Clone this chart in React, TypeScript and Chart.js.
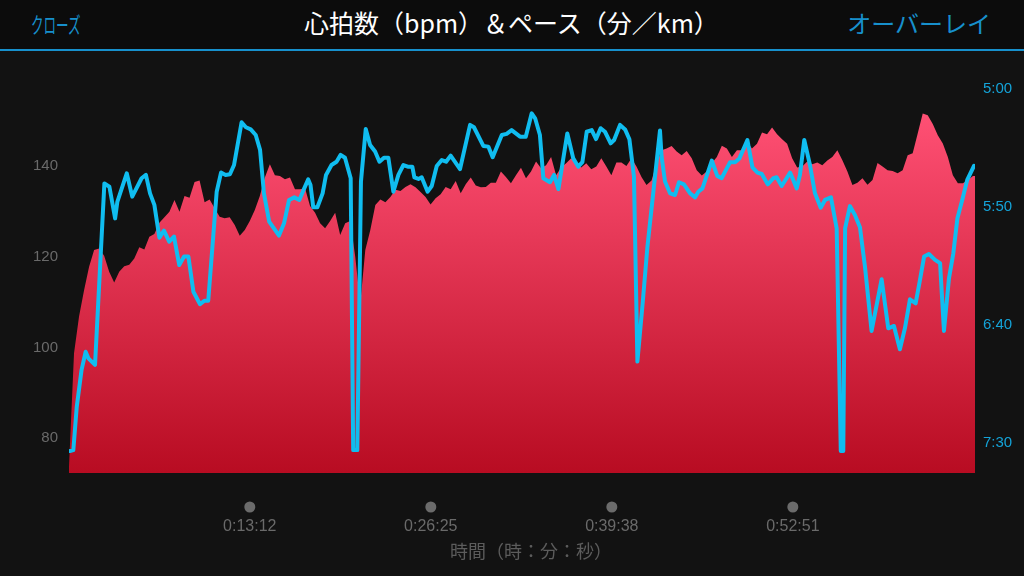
import { useEffect, useRef } from 'react'
import { Chart, registerables } from 'chart.js'

Chart.register(...registerables)

const sampleStep = 22
const heartRate = [
  73.7, 98.7, 106.8, 112.6, 117.8, 121.5, 121.8, 120.2, 116.7, 114.3,
  116.7, 117.9, 118.2, 119.6, 122.1, 121.6, 124.4, 125, 127.5, 128.7,
  129.9, 132.5, 129.9, 133.4, 133, 136.5, 136.8, 132, 132.6, 130.7,
  128.8, 128.5, 128.7, 127, 124.6, 125.9, 127.9, 130.3, 133.4, 137.5,
  140.4, 138, 137.8, 137.1, 137.5, 134.9, 134.9, 135.1, 131.2, 129.7,
  127.4, 126.3, 127.9, 129.7, 124.8, 127.4, 127.9, 120, 109.7, 121.5,
  125.9, 131.4, 132.6, 132, 133.2, 134.8, 134.5, 135.4, 136, 135.3,
  134.3, 133.2, 131.5, 132.9, 133.8, 135.4, 134.9, 136.7, 134, 136,
  137.5, 135.7, 135.3, 135.4, 136.3, 136.3, 138.8, 137.6, 136.2, 138,
  139.6, 137.3, 138.8, 141, 139.5, 140.2, 142, 138, 139.7, 140.6,
  141.7, 140.7, 139.7, 140.6, 139.3, 139.9, 141.7, 139.9, 138, 140.8,
  140.8, 140, 141.7, 139.9, 137.6, 135.8, 136.8, 140.6, 143.5, 143.9,
  144.4, 143.2, 142.4, 143.3, 141.7, 139.1, 137.9, 138.8, 140.6, 142,
  144.5, 143.9, 142, 143.5, 143.5, 145.4, 143.9, 144.9, 147.4, 147,
  148.5, 147, 145.9, 144.9, 141.7, 139.7, 139.9, 141, 140.4, 140.8,
  140.2, 141.2, 142, 143.5, 141.3, 138.8, 135.8, 136.3, 137.3, 135.9,
  136.9, 140.7, 139.9, 139.1, 138.9, 138.4, 139.1, 142.4, 142.8, 147.2,
  151.6, 151.2, 149.3, 146.8, 145, 142, 138, 136.2, 136.2, 136.9,
  137.8, 137.8,
]

const paceTimes = [
  4, 19, 34, 55, 73, 85, 114, 155, 177, 202, 212, 253, 277, 318, 337, 355, 374, 396, 416, 439,
  460, 483, 504, 523, 545, 574, 593, 610, 647, 666, 686, 705, 723, 756, 775, 796, 818, 837, 854, 877,
  920, 942, 964, 987, 1009, 1031, 1048, 1058, 1070, 1088, 1111, 1126, 1150, 1172, 1190, 1209, 1234, 1245, 1263, 1279,
  1300, 1319, 1341, 1360, 1380, 1399, 1421, 1443, 1465, 1484, 1504, 1513, 1531, 1545, 1571, 1589, 1611, 1633, 1652, 1672,
  1713, 1757, 1774, 1815, 1837, 1856, 1896, 1917, 1939, 1976, 2001, 2027, 2042, 2063, 2078, 2107, 2125, 2144, 2183, 2209,
  2231, 2249, 2268, 2290, 2309, 2329, 2348, 2373, 2388, 2414, 2436, 2455, 2475, 2490, 2513, 2534, 2553, 2589, 2596, 2611,
  2633, 2655, 2672, 2694, 2721, 2743, 2757, 2775, 2816, 2840, 2859, 2896, 2918, 2937, 2972, 2994, 3016, 3035, 3061, 3086,
  3100, 3122, 3159, 3188, 3202, 3221, 3246, 3268, 3293, 3312, 3338, 3363, 3381, 3392, 3400, 3421, 3443, 3465, 3487, 3516,
  3560, 3589, 3614, 3640, 3662, 3684, 3709, 3728, 3746, 3767, 3794, 3816, 3833, 3855, 3874, 3892, 3915, 3935, 3965,
]
// pace in seconds per km
const paceValues = [
  453.4, 453, 434.6, 419, 411.3, 414.1, 416.9, 340, 341.4, 354.8, 347.7, 335.7, 345.6, 337.8, 336.4, 344.2, 349.1, 363, 360, 364.7,
  362.5, 374.6, 371, 371, 385.9, 391.2, 389.7, 389.7, 343.5, 335.4, 336.4, 336.1, 332.2, 314.1, 316.2, 317.1, 319.5, 325.8, 344.2, 356.2,
  362.1, 356.9, 347, 345.9, 347, 342, 338.3, 340.7, 350.1, 350.1, 344.2, 336.4, 332.2, 330.8, 327.9, 329.1, 337.8, 453, 453, 339.2,
  316.9, 323.7, 326.5, 330.8, 329.1, 329.1, 343.5, 336.4, 332.2, 332.9, 332.9, 337.4, 338.1, 337.4, 343.5, 341.1, 332.6, 330.1, 330.8, 328.2,
  333.9, 315.2, 316.2, 324.1, 324.4, 328.9, 319.5, 319, 317.4, 320.2, 320.2, 310.3, 312.4, 319.5, 337.8, 339.5, 336.4, 342.4, 318.8, 329.4,
  332.9, 331, 318.1, 317.4, 321.2, 316.6, 318.1, 323, 321.6, 315.2, 317.1, 321.3, 337.1, 415.5, 390.8, 366.8, 349.8, 317.6, 328.6, 339.2,
  344.2, 344.9, 339.5, 340.4, 344.2, 345.9, 343.5, 342.1, 330.3, 336.8, 337.8, 331, 331, 329.4, 321.6, 333.2, 335.4, 336, 340.4, 337.8,
  337.4, 341.1, 335.4, 342.1, 336.4, 321.6, 332.2, 344.2, 350.3, 347, 345.9, 359, 453.4, 453.4, 359, 349.6, 353.4, 358.6, 375.3, 402.5,
  380.6, 401.4, 400.4, 410.3, 401.4, 389.1, 390.8, 380.9, 371, 369.9, 372.4, 373.8, 402.5, 380.2, 369.6, 354.8, 346.3, 338.5, 332.5,
]

const timeTicks = [792, 1585, 2378, 3171]
const hrTicks = [80, 100, 120, 140]
const paceTicks = [300, 350, 400, 450]

const pad = (n: number) => String(n).padStart(2, '0')
const fmtTime = (s: number) => `${Math.floor(s / 3600)}:${pad(Math.floor(s / 60) % 60)}:${pad(s % 60)}`
const fmtPace = (s: number) => `${Math.floor(s / 60)}:${pad(s % 60)}`

const setTicks = (list: number[]) => (axis: any) => {
  axis.ticks = list.map(value => ({ value }))
}

// grey dots above the time labels
const tickDots = {
  id: 'tickDots',
  afterDraw(chart: any) {
    const { ctx, scales, chartArea } = chart
    ctx.save()
    ctx.fillStyle = '#6b6b6b'
    timeTicks.forEach(t => {
      ctx.beginPath()
      ctx.arc(scales.x.getPixelForValue(t), chartArea.bottom + 34, 5.5, 0, Math.PI * 2)
      ctx.fill()
    })
    ctx.restore()
  },
}

export default function App() {
  const canvasRef = useRef<HTMLCanvasElement>(null)

  useEffect(() => {
    if (!canvasRef.current) return

    const chart = new Chart(canvasRef.current, {
      type: 'line',
      data: {
        datasets: [
          {
            label: 'ペース',
            data: paceTimes.map((t, i) => ({ x: t, y: paceValues[i] })),
            yAxisID: 'y1',
            borderColor: '#10bdf0',
            borderWidth: 4,
            borderJoinStyle: 'round',
            borderCapStyle: 'round',
            pointRadius: 0,
            tension: 0,
            fill: false,
            order: 1,
          },
          {
            label: '心拍数',
            data: heartRate.map((v, i) => ({ x: i * sampleStep, y: v })),
            yAxisID: 'y',
            borderWidth: 0,
            pointRadius: 0,
            tension: 0,
            fill: 'start',
            order: 2,
            backgroundColor: (c: any) => {
              const { chart: ch } = c
              if (!ch.chartArea) return '#d8263f'
              const g = ch.ctx.createLinearGradient(0, ch.scales.y.getPixelForValue(151.5), 0, ch.chartArea.bottom)
              g.addColorStop(0, '#ff5074')
              g.addColorStop(1, '#b80c22')
              return g
            },
          },
        ],
      },
      options: {
        responsive: false,
        animation: false,
        layout: { padding: { top: 60, bottom: 14 } },
        plugins: { legend: { display: false }, tooltip: { enabled: false } },
        scales: {
          x: {
            type: 'linear',
            min: 0,
            max: 3969,
            afterBuildTicks: setTicks(timeTicks),
            afterFit: (axis: any) => { axis.height = 89 },
            grid: { display: false, drawTicks: false },
            border: { display: false },
            ticks: {
              color: '#6a6a6a',
              padding: 44,
              maxRotation: 0,
              autoSkip: false,
              font: { family: "'Liberation Sans'", size: 16 },
              callback: (v: string | number) => fmtTime(Number(v)),
            },
            title: {
              display: true,
              text: '　時間（時：分：秒）',
              color: '#5c5c5c',
              padding: 0,
              font: { family: "'Noto Sans CJK JP'", size: 18 },
            },
          },
          y: {
            position: 'left',
            min: 72.28,
            max: 163.4,
            afterBuildTicks: setTicks(hrTicks),
            afterFit: (axis: any) => { axis.width = 69 },
            grid: { display: false, drawTicks: false },
            border: { display: false },
            ticks: {
              color: '#6a6a6a',
              padding: 11,
              font: { family: "'Liberation Sans'", size: 15 },
            },
          },
          y1: {
            position: 'right',
            reverse: true,
            min: 287.7,
            max: 462.7,
            afterBuildTicks: setTicks(paceTicks),
            afterFit: (axis: any) => { axis.width = 49 },
            grid: { display: false, drawTicks: false },
            border: { display: false },
            ticks: {
              color: '#14a3d8',
              padding: 8,
              font: { family: "'Liberation Sans'", size: 15 },
              callback: (v: string | number) => fmtPace(Number(v)),
            },
          },
        },
      },
      plugins: [tickDots],
    } as any)

    return () => chart.destroy()
  }, [])

  return (
    <div style={{ position: 'fixed', inset: 0, width: 1024, height: 576, background: '#121212', overflow: 'hidden' }}>
      <canvas ref={canvasRef} width={1024} height={576} style={{ position: 'absolute', left: 0, top: 0 }} />
      <div
        style={{
          position: 'absolute', left: 0, top: 0, width: 1024, height: 49,
          background: '#0c0c0c', borderBottom: '2px solid #1790cc',
          fontFamily: "'Noto Sans CJK JP'", whiteSpace: 'nowrap',
        }}
      >
        <span
          style={{
            position: 'absolute', left: 31, top: 6, fontSize: 22, lineHeight: '34px', color: '#1790cc',
            transform: 'scaleX(0.57)', transformOrigin: 'left center',
          }}
        >
          クローズ
        </span>
        <span
          style={{
            position: 'absolute', left: 304, top: 3, fontSize: 25, lineHeight: '38px', fontWeight: 400, color: '#fff',
          }}
        >
          心拍数（bpm）＆ペース（分／km）
        </span>
        <span
          style={{
            position: 'absolute', right: 33, top: 4, fontSize: 24, lineHeight: '38px', color: '#1790cc',
          }}
        >
          オーバーレイ
        </span>
      </div>
    </div>
  )
}
